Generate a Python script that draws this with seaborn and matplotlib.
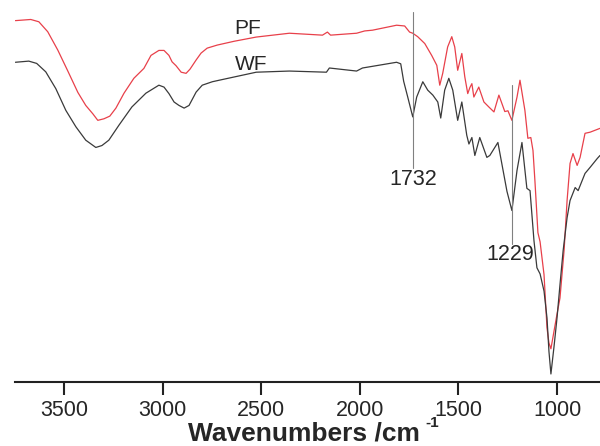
import pandas as pd
import seaborn as sns
import matplotlib
matplotlib.use("Agg")
import matplotlib.pyplot as plt

# FTIR spectra (wavenumber cm-1, transmittance a.u.)
pf_wn = [3748, 3670, 3629, 3584, 3533, 3482, 3431, 3391, 3355, 3330, 3299, 3269,
         3238, 3197, 3147, 3096, 3060, 3020, 2994, 2969, 2953, 2933, 2907, 2882,
         2862, 2831, 2806, 2775, 2724, 2638, 2526, 2358, 2190, 2165, 2149, 2017,
         1976, 1936, 1814, 1773, 1748, 1732, 1707, 1671, 1636, 1610, 1595, 1580,
         1555, 1534, 1519, 1504, 1483, 1468, 1453, 1442, 1432, 1422, 1397, 1371,
         1346, 1320, 1295, 1265, 1249, 1229, 1203, 1188, 1163, 1148, 1133, 1122,
         1112, 1097, 1086, 1066, 1051, 1041, 1031, 1015, 1000, 985, 964, 949,
         934, 919, 898, 883, 858, 832, 782]
pf_t = [94.6, 94.9, 94.3, 91.7, 86.9, 81.4, 75.8, 72.4, 70.2, 68.5, 68.9, 69.6,
        71.7, 75.6, 79.5, 82.1, 85.5, 86.8, 86.8, 85.5, 83.8, 82.8, 81.1, 80.8,
        81.9, 84.3, 86.1, 87.4, 88.2, 89.2, 90.3, 91.3, 90.8, 91.6, 90.8, 91.3,
        91.9, 92.1, 93.4, 93.2, 91.6, 91.3, 90.4, 88.6, 85.5, 82.9, 77.7, 80.8,
        87.7, 90.4, 87.7, 81.6, 86.0, 79.9, 75.5, 77.1, 78.1, 74.6, 77.2, 73.3,
        72.0, 70.7, 75.1, 70.8, 71.0, 68.5, 74.6, 79.0, 71.1, 63.8, 64.0, 60.6,
        52.5, 39.1, 36.7, 28.1, 14.2, 10.2, 8.7, 13.4, 17.8, 22.0, 34.6, 47.5,
        57.2, 59.8, 56.7, 58.8, 65.1, 65.4, 66.4]

wf_wn = [3748, 3680, 3640, 3594, 3543, 3492, 3441, 3391, 3340, 3309, 3274, 3223,
         3157, 3086, 3020, 2994, 2969, 2943, 2918, 2892, 2867, 2831, 2800, 2749,
         2714, 2526, 2358, 2170, 2155, 2017, 1987, 1814, 1793, 1778, 1758, 1732,
         1712, 1681, 1656, 1630, 1605, 1590, 1570, 1549, 1529, 1504, 1483, 1458,
         1447, 1432, 1417, 1392, 1356, 1341, 1300, 1254, 1229, 1203, 1178, 1153,
         1137, 1117, 1102, 1086, 1066, 1051, 1041, 1031, 1015, 1000, 985, 969,
         949, 934, 908, 893, 858, 832, 796, 782]
wf_t = [83.7, 84.0, 83.4, 81.2, 76.8, 71.1, 66.8, 63.3, 61.4, 61.9, 63.3, 67.2,
        72.0, 75.6, 77.7, 77.2, 75.5, 73.3, 72.4, 71.7, 72.4, 75.9, 77.7, 78.6,
        79.0, 81.1, 81.4, 81.1, 82.2, 81.4, 82.2, 83.7, 83.3, 78.7, 74.7, 69.4,
        74.6, 78.6, 76.4, 75.1, 73.3, 69.1, 76.4, 79.5, 76.4, 68.5, 73.3, 64.6,
        62.3, 64.0, 59.3, 64.0, 58.8, 59.3, 62.7, 49.9, 44.9, 55.4, 62.7, 50.7,
        50.1, 37.0, 29.9, 28.3, 23.8, 16.8, 8.0, 2.1, 9.4, 16.8, 25.5, 34.4,
        43.0, 47.5, 50.9, 50.1, 54.6, 56.2, 58.5, 59.3]

peaks = [1732, 1229]
ticks = [3500, 3000, 2500, 2000, 1500, 1000]

df = pd.concat([
    pd.DataFrame({"wn": pf_wn, "T": pf_t, "sample": "PF"}),
    pd.DataFrame({"wn": wf_wn, "T": wf_t, "sample": "WF"}),
])

sns.set_style("white")
plt.rcParams["font.family"] = ["Liberation Sans", "DejaVu Sans"]

fig = plt.figure(figsize=(6, 4.46), dpi=100)
ax = fig.add_axes([0.025, 0.1435, 0.975, 0.8565])

sns.lineplot(data=df, x="wn", y="T", hue="sample", palette={"PF": "#e8404a", "WF": "#3a3a3a"},
             linewidth=0.9, legend=False, ax=ax)

# peak marker lines
ax.plot([peaks[0], peaks[0]], [96.9, 55.9], color="#808080", lw=0.8)
ax.plot([peaks[1], peaks[1]], [77.7, 36.0], color="#808080", lw=0.8)
ax.text(peaks[0], 53.0, str(peaks[0]), ha="center", va="center", fontsize=15.5)
ax.text(1239, 33.3, str(peaks[1]), ha="center", va="center", fontsize=15.5)

ax.text(2572, 92.6, "PF", ha="center", va="center", fontsize=15)
ax.text(2551, 83.0, "WF", ha="center", va="center", fontsize=15)

ax.set_xlim(3750, 782)
ax.set_ylim(0, 100)
ax.set_xticks(ticks)
ax.set_xticklabels([str(t) for t in ticks], fontsize=15.5)
ax.set_yticks([])
ax.set_ylabel("")
ax.set_xlabel("Wavenumbers /cm", fontsize=19, fontweight="bold", va="baseline")
ax.xaxis.set_label_coords(0.494, -0.154)
# superscript -1 written as a small separate text
ax.text(0.713, -0.108, "-1", transform=ax.transAxes, ha="center", va="center",
        fontsize=11, fontweight="bold")

for s in ["left", "right", "top"]:
    ax.spines[s].set_visible(False)
ax.spines["bottom"].set_linewidth(1.5)
ax.spines["bottom"].set_color("#222222")
ax.tick_params(axis="x", direction="out", length=9, width=1.5, color="#222222", pad=4, bottom=True)

fig.savefig("out.png", dpi=100)
